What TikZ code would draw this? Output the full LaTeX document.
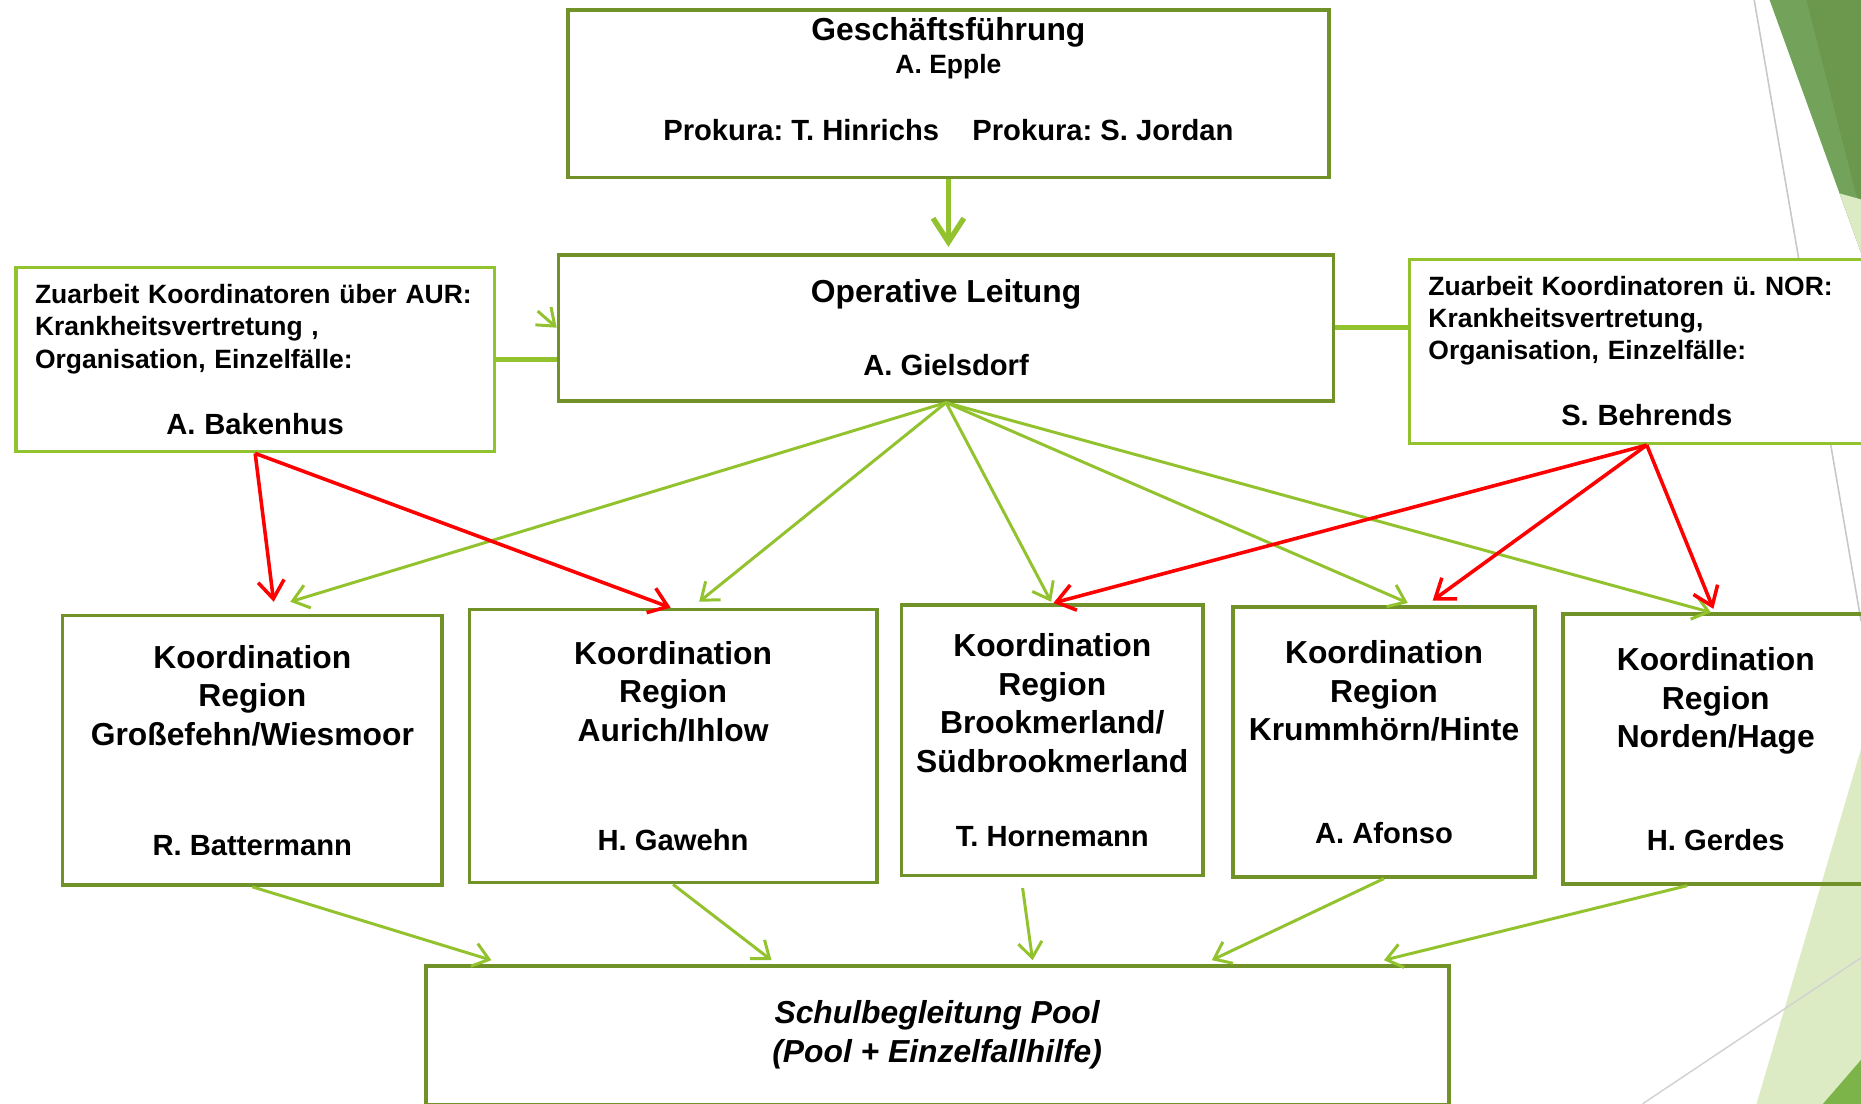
\documentclass[tikz,border=0pt]{standalone}
\usepackage{fontspec}
\setmainfont{Liberation Sans}
\usetikzlibrary{arrows.meta,calc}
\definecolor{boxgreen}{RGB}{113,146,40}
\definecolor{linkgreen}{RGB}{146,194,46}
\definecolor{facetmid}{RGB}{115,163,90}
\definecolor{facetdark}{RGB}{107,152,77}
\definecolor{facetpale}{RGB}{221,235,197}
\definecolor{facetlow}{RGB}{124,180,74}
\newcommand\nmfont{\fontsize{24.6}{32.6}\selectfont}
\newcommand\epfont{\fontsize{22.3}{27}\selectfont}
\frenchspacing
\begin{document}
\begin{tikzpicture}[x=1pt,y=-1pt,>={Straight Barb[length=13pt,width=20pt]},
  box/.style={draw=boxgreen,line width=3.2pt,fill=white,anchor=north west,inner sep=0pt,align=center,font=\fontsize{26.8}{32.6}\selectfont\bfseries},
  side/.style={draw=linkgreen,line width=3pt,fill=white,anchor=north west,inner xsep=16pt,inner ysep=0pt,align=left,font=\epfont\bfseries},
  garrow/.style={->,draw=linkgreen,line width=2.5pt},
  rarrow/.style={-{Straight Barb[length=15pt,width=22pt]},draw=red,line width=3pt},
  link/.style={draw=linkgreen,line width=4.5pt}]
\useasboundingbox (0,0) rectangle (1568,930);
\clip (0,0) rectangle (1568,930);
\fill[white] (0,0) rectangle (1568,930);
\draw[black!22,line width=1.3pt] (1478,0)--(1568,523);
\fill[facetmid] (1491,0)--(1568,0)--(1568,213)--cycle;
\fill[facetdark] (1522,0)--(1568,0)--(1568,180)--cycle;
\fill[facetpale] (1550,163)--(1568,168)--(1568,213)--cycle;
\fill[facetpale] (1568,631)--(1480,930)--(1568,930)--cycle;
\fill[facetlow] (1536,930)--(1568,893)--(1568,930)--cycle;
\draw[black!18,line width=1.2pt] (1384,930)--(1568,807);

\node[box,minimum width=641,minimum height=141,text depth=25pt] (gf) at (477,7)
  {Geschäftsführung\\[-5.2pt]{\epfont A. Epple}\\[24.4pt]{\nmfont Prokura: T. Hinrichs\hspace{28pt}Prokura: S. Jordan}};
\node[box,minimum width=653,minimum height=123] (ol) at (469,213)
  {Operative Leitung\\[29.6pt]{\nmfont A. Gielsdorf}};
\node[side,text width=371pt,minimum height=155] (aur) at (12,224)
  {Zuarbeit Koordinatoren über AUR:\\Krankheitsvertretung ,\\Organisation, Einzelfälle:\\[28.8pt]\makebox[371pt]{\nmfont A. Bakenhus}};
\node[side,text width=368pt,minimum height=155] (nor) at (1186,217)
  {Zuarbeit Koordinatoren ü. NOR:\\Krankheitsvertretung,\\Organisation, Einzelfälle:\\[28.8pt]\makebox[368pt]{\nmfont S. Behrends}};

\node[box,minimum width=320,minimum height=227] (r1) at (51,517)
  {Koordination\\Region\\Großefehn/Wiesmoor\\[59.6pt]{\nmfont R. Battermann}};
\node[box,minimum width=343,minimum height=230] (r2) at (394,512)
  {Koordination\\Region\\Aurich/Ihlow\\[59.6pt]{\nmfont H. Gawehn}};
\node[box,minimum width=254,minimum height=228] (r3) at (758,508)
  {Koordination\\Region\\Brookmerland/\\Südbrookmerland\\[29.6pt]{\nmfont T. Hornemann}};
\node[box,minimum width=255,minimum height=227] (r4) at (1037,510)
  {Koordination\\Region\\Krummhörn/Hinte\\[53.6pt]{\nmfont A. Afonso}};
\node[box,fill=none,minimum width=258,minimum height=227] (r5) at (1315,516)
  {Koordination\\Region\\Norden/Hage\\[53.6pt]{\nmfont H. Gerdes}};
\node[box,minimum width=862,minimum height=117,font=\fontsize{26.8}{32.6}\selectfont\bfseries\itshape] (pool) at (357,812)
  {Schulbegleitung Pool\\(Pool + Einzelfallhilfe)};

\draw[link] (aur.east)--(aur.east -| ol.west);
\draw[link] (ol.east)--(ol.east -| nor.west);
\draw[garrow,line width=4.5pt,-{Straight Barb[length=20pt,width=26pt]}] (gf.south)--($(gf.south |- ol.north)+(0,-5)$);
\coordinate (stub) at ($(ol.west)+(-16,-14)$);
\draw[garrow] (stub)--(ol.west);
\foreach \t/\dx/\dy in {r1/32/-10,r2/22/-5,r3/-1/-1,r4/20/-2,r5/-4/0}
  \draw[garrow] (ol.south)--($(\t.north)+(\dx,\dy)$);
\draw[rarrow] (aur.south)--($(r1.north)+(18,-10)$);
\draw[rarrow] (aur.south)--($(r2.north)+(-2,0)$);
\foreach \t/\dx/\dy in {r3/1/0,r4/41/-4,r5/-2/-3}
  \draw[rarrow] (nor.south)--($(\t.north)+(\dx,\dy)$);
\foreach \t/\sx/\sy/\dx in {r1/0/0/57,r2/0/0/293,r3/-25/9/513,r4/0/0/664,r5/-24/0/809}
  \draw[garrow] ($(\t.south)+(\sx,\sy)$)--($(pool.north west)+(\dx,-3)$);
\end{tikzpicture}
\end{document}
